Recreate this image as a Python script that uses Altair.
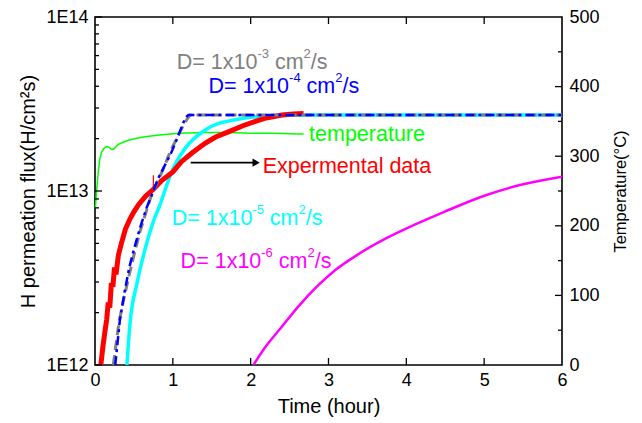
import altair as alt
import pandas as pd

FONT = "Liberation Sans"

# ---------------- data ----------------
# hours / log10(flux) for each curve
gray_h = [0.235, 0.27, 0.31, 0.37, 0.43, 0.50, 0.58, 0.65, 0.72, 0.80, 0.88, 0.97, 1.07, 1.15, 1.22, 6.0]
gray_lf = [12.0, 12.12, 12.25, 12.38, 12.50, 12.63, 12.77, 12.87, 12.97, 13.05, 13.13, 13.23, 13.32, 13.39, 13.437, 13.437]

blue_h = [0.26, 0.32, 0.38, 0.44, 0.51, 0.58, 0.66, 0.74, 0.81, 0.90, 0.985, 1.08, 1.16, 1.20, 6.0]
blue_lf = [12.0, 12.26, 12.42, 12.56, 12.68, 12.79, 12.90, 12.99, 13.07, 13.15, 13.225, 13.33, 13.42, 13.437, 13.437]

cyan_h = [0.41, 0.45, 0.54, 0.64, 0.77, 0.835, 0.90, 0.985, 1.157, 1.414, 1.8, 2.31, 2.8, 6.0]
cyan_lf = [12.0, 12.24, 12.47, 12.66, 12.85, 12.92, 13.006, 13.11, 13.245, 13.35, 13.41, 13.433, 13.437, 13.437]

mag_h = [2.035, 2.2, 2.4, 2.6, 2.85, 3.1, 3.36, 3.75, 4.1, 4.48, 5.03, 5.46, 6.0]
mag_lf = [12.0, 12.11, 12.22, 12.33, 12.45, 12.55, 12.63, 12.73, 12.805, 12.879, 12.977, 13.034, 13.082]

red_h = [0.075, 0.10, 0.13, 0.15, 0.17, 0.19, 0.21, 0.23, 0.25, 0.27, 0.30, 0.34, 0.39, 0.45, 0.50,
         0.557, 0.65, 0.75, 0.857, 1.0, 1.114, 1.25, 1.414, 1.55, 1.714, 1.9, 2.06, 2.2, 2.4, 2.55, 2.68]
red_lf = [12.0, 12.10, 12.20, 12.26, 12.36, 12.33, 12.47, 12.45, 12.56, 12.52, 12.63, 12.70, 12.78, 12.84, 12.88,
          12.92, 12.97, 13.01, 13.06, 13.11, 13.17, 13.22, 13.274, 13.31, 13.34, 13.375, 13.40, 13.42, 13.437, 13.443, 13.446]
red_spike_h = [0.75]
red_spike_lf = [13.02]
red_spike_lf2 = [13.09]

temp_h = [0.005, 0.02, 0.043, 0.06, 0.085, 0.12, 0.15, 0.18, 0.21, 0.24, 0.27, 0.30, 0.36, 0.43, 0.55,
          0.64, 0.8, 1.07, 1.4, 1.71, 2.0, 2.3, 2.61, 2.68]
temp_c = [226, 250, 278, 295, 306, 312, 314, 313, 310, 310, 314, 317, 320, 323, 326,
          328, 330, 333, 334, 334, 333, 333, 332, 332]

# annotations: left-edge hour, baseline log10 flux, text parts (text, is_superscript, leading_space)
lab_gray = (1.05, 13.70, [("D= 1x10", False, False), ("-3", True, False), ("cm", False, True), ("2", True, False), ("/s", False, False)])
lab_blue = (1.457, 13.565, [("D= 1x10", False, False), ("-4", True, False), ("cm", False, True), ("2", True, False), ("/s", False, False)])
lab_cyan = (0.985, 12.805, [("D= 1x10", False, False), ("-5", True, False), ("cm", False, True), ("2", True, False), ("/s", False, False)])
lab_mag = (1.10, 12.556, [("D= 1x10", False, False), ("-6", True, False), ("cm", False, True), ("2", True, False), ("/s", False, False)])
lab_temp = (2.75, 13.289, [("temperature", False, False)])
lab_exp = (2.155, 13.105, [("Expermental data", False, False)])
arrow_h = [1.23]
arrow_h2 = [2.07]
arrow_lf = [13.163]

x_ticks = [0, 1, 2, 3, 4, 5, 6]
x_inner_ticks = [1, 2, 3, 4, 5]
y_major = [1e12, 1e13, 1e14]
y_minor = [2e12, 3e12, 4e12, 5e12, 6e12, 7e12, 8e12, 9e12, 2e13, 3e13, 4e13, 5e13, 6e13, 7e13, 8e13, 9e13]
t_ticks = [0, 100, 200, 300, 400, 500]
t_inner_major = [100, 200, 300, 400]
t_minor = [50, 150, 250, 350, 450]

W, H = 467, 348
MAIN, SUP = 21.5, 13

# ---------------- encodings ----------------
X_ENC = alt.X("h:Q", scale=alt.Scale(domain=[0, 6], nice=False, zero=False),
              axis=alt.Axis(values=x_ticks, format="d", title="Time (hour)", ticks=False, domain=False,
                            grid=False, labelFontSize=18, labelFont=FONT, labelColor="black",
                            labelPadding=6, labelFlush=False, titleFont=FONT, titleFontSize=20,
                            titleFontWeight="normal", titleColor="black", titlePadding=7))
Y_ENC = alt.Y("f:Q", scale=alt.Scale(type="log", domain=[1e12, 1e14], nice=False),
              axis=alt.Axis(orient="left", values=y_major,
                            labelExpr="'1E' + round(log(datum.value) / LN10)",
                            title="H permeation flux(H/cm²s)", ticks=False, domain=False, grid=False,
                            labelFontSize=18, labelFont=FONT, labelColor="black", labelPadding=7,
                            titleFont=FONT, titleFontSize=20, titleFontWeight="normal",
                            titleColor="black", titlePadding=7))
Y_T = alt.Y("t:Q", scale=alt.Scale(domain=[0, 500], nice=False),
            axis=alt.Axis(orient="right", values=t_ticks, title="Temperature(°C)", ticks=False,
                          domain=False, grid=False, labelFontSize=18, labelFont=FONT,
                          labelColor="black", labelPadding=7, titleFont=FONT, titleFontSize=16.5,
                          titleFontWeight="normal", titleColor="black", titleAngle=270,
                          titleBaseline="top", titlePadding=13))


def flux_line(hs, lfs, color, width, dash=None, interp="linear"):
    df = pd.DataFrame({"h": hs, "f": [10 ** v for v in lfs]})
    mk = dict(color=color, strokeWidth=width, clip=True, strokeCap="butt", interpolate=interp)
    if dash:
        mk["strokeDash"] = dash
    return alt.Chart(df).mark_line(**mk).encode(x=X_ENC, y=Y_ENC)


CW = {"D": .722, "=": .584, " ": .278, "1": .556, "x": .5, "0": .556, "-": .333, "2": .556,
      "3": .556, "4": .556, "5": .556, "6": .556, "c": .5, "m": .833, "/": .278, "s": .5}


def label(spec, color):
    h, lf, parts = spec
    layers = []
    off = 0.0
    for txt, sup, lead in parts:
        fs = SUP if sup else MAIN
        if lead:
            off += CW[" "] * MAIN
        df = pd.DataFrame({"h": [h], "f": [10 ** lf], "txt": [txt]})
        layers.append(
            alt.Chart(df).mark_text(align="left", baseline="alphabetic", dx=off, dy=-11 if sup else 0,
                                    fontSize=fs, font=FONT, color=color)
            .encode(x=X_ENC, y=Y_ENC, text="txt:N"))
        off += sum(CW.get(c, .556) for c in txt) * fs
    return layers


# ---------------- flux group ----------------
flux_layers = [
    flux_line(cyan_h, cyan_lf, "#00FFFF", 3.5, interp="monotone"),
    flux_line(mag_h, mag_lf, "#FF00FF", 2.5, interp="monotone"),
    flux_line(red_h, red_lf, "#FF0000", 5),
    alt.Chart(pd.DataFrame({"h": red_spike_h, "f": [10 ** v for v in red_spike_lf],
                            "f2": [10 ** v for v in red_spike_lf2]}))
    .mark_rule(color="#FF0000", strokeWidth=1.2).encode(x=X_ENC, y=Y_ENC, y2="f2:Q"),
    flux_line(gray_h, gray_lf, "#808080", 3, [10, 5]),
    flux_line(blue_h, blue_lf, "#0000FF", 2.5, [9, 4, 3, 4]),
]
arrow_df = pd.DataFrame({"h": arrow_h, "h2": arrow_h2, "f": [10 ** v for v in arrow_lf]})
flux_layers.append(alt.Chart(arrow_df).mark_rule(color="black", strokeWidth=1.6)
                   .encode(x=X_ENC, x2="h2:Q", y=Y_ENC))
flux_layers.append(alt.Chart(pd.DataFrame({"h": arrow_h2, "f": [10 ** v for v in arrow_lf]}))
                   .mark_point(shape="triangle-right", filled=True, color="black", size=70, opacity=1)
                   .encode(x=X_ENC, y=Y_ENC))
flux_layers += label(lab_gray, "#808080")
flux_layers += label(lab_blue, "#0000FF")
flux_layers += label(lab_cyan, "#00FFFF")
flux_layers += label(lab_mag, "#FF00FF")
flux_layers += label(lab_temp, "#00FF00")
flux_layers += label(lab_exp, "#FF0000")

# inward ticks
flux_layers.append(alt.Chart(pd.DataFrame({"h": x_inner_ticks})).mark_rule(color="black", strokeWidth=1.3)
                   .encode(x=X_ENC, y=alt.value(H), y2=alt.value(H - 7)))
flux_layers.append(alt.Chart(pd.DataFrame({"h": x_inner_ticks})).mark_rule(color="black", strokeWidth=1.3)
                   .encode(x=X_ENC, y=alt.value(0), y2=alt.value(7)))
flux_layers.append(alt.Chart(pd.DataFrame({"f": y_major})).mark_rule(color="black", strokeWidth=1.3)
                   .encode(y=Y_ENC, x=alt.value(0), x2=alt.value(7)))
flux_layers.append(alt.Chart(pd.DataFrame({"f": y_minor})).mark_rule(color="black", strokeWidth=1.3)
                   .encode(y=Y_ENC, x=alt.value(0), x2=alt.value(4)))

flux_group = alt.layer(*flux_layers)

# ---------------- temperature group ----------------
temp_df = pd.DataFrame({"h": temp_h, "t": temp_c})
temp_layers = [
    alt.Chart(temp_df).mark_line(color="#00FF00", strokeWidth=1.5).encode(x=X_ENC, y=Y_T),
    alt.Chart(pd.DataFrame({"t": t_inner_major})).mark_rule(color="black", strokeWidth=1.3)
    .encode(y=Y_T, x=alt.value(W - 7), x2=alt.value(W)),
    alt.Chart(pd.DataFrame({"t": t_minor})).mark_rule(color="black", strokeWidth=1.3)
    .encode(y=Y_T, x=alt.value(W - 4), x2=alt.value(W)),
]
temp_group = alt.layer(*temp_layers)

chart = (
    alt.layer(temp_group, flux_group)
    .resolve_scale(y="independent")
    .properties(width=W, height=H, autosize=alt.AutoSizeParams(type="none"),
                padding={"left": 87, "top": 9, "right": 72, "bottom": 55}, background="white")
    .configure_view(stroke="black", strokeWidth=1.6)
)

chart.save("out.html", embed_options={"renderer": "svg", "actions": False})
